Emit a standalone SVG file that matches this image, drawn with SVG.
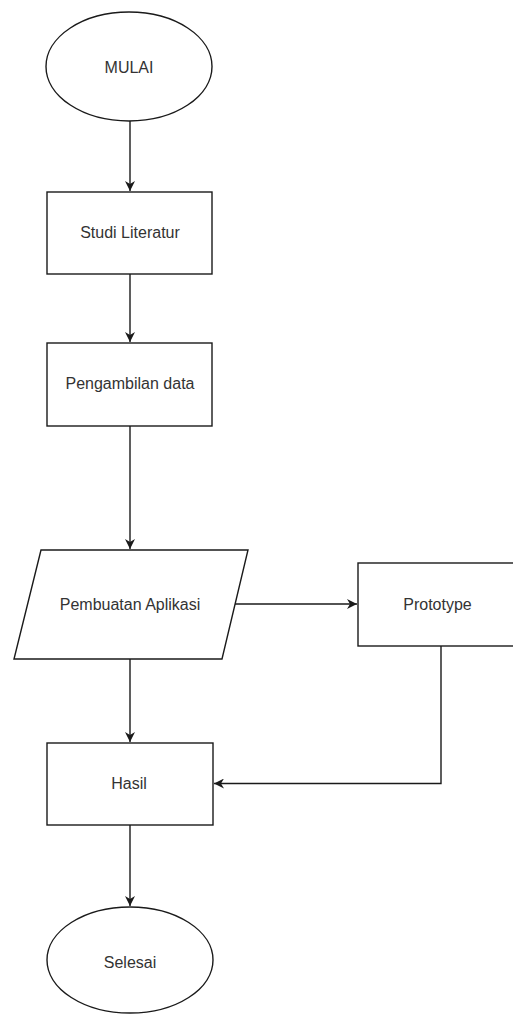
<svg xmlns="http://www.w3.org/2000/svg" width="513" height="1014" viewBox="0 0 513 1014">
<style>
.shape{fill:#ffffff;stroke:#1a1a1a;stroke-width:1.4}
.lbl{font-family:"Liberation Sans",Arial,sans-serif;font-size:16px;fill:#333333;text-anchor:middle}
.edge{fill:none;stroke:#1a1a1a;stroke-width:1.4}
</style>
<defs>
<marker id="arr" viewBox="0 0 10 10" refX="10" refY="5" markerWidth="10" markerHeight="10" markerUnits="userSpaceOnUse" orient="auto">
<path d="M0,0 L10,5 L0,10 L3,5 z" fill="#1a1a1a"/>
</marker>
</defs>
<rect width="513" height="1014" fill="#ffffff"/>
<g id="connectors">
<path class="edge" d="M130,121 L130,191" marker-end="url(#arr)"/>
<path class="edge" d="M130,274 L130,342" marker-end="url(#arr)"/>
<path class="edge" d="M130,426 L130,549" marker-end="url(#arr)"/>
<path class="edge" d="M233,604 L357,604" marker-end="url(#arr)"/>
<path class="edge" d="M130,659 L130,742" marker-end="url(#arr)"/>
<path class="edge" d="M441,646 L441,783.5 L214,783.5" marker-end="url(#arr)"/>
<path class="edge" d="M130,825 L130,906" marker-end="url(#arr)"/>
</g>
<g id="mulai">
<ellipse class="shape" cx="129" cy="66.5" rx="83" ry="54.5"/>
<text class="lbl" x="129" y="73">MULAI</text>
</g>
<g id="studi-literatur">
<rect class="shape" x="47" y="192" width="165" height="82"/>
<text class="lbl" x="130" y="238">Studi Literatur</text>
</g>
<g id="pengambilan-data">
<rect class="shape" x="47" y="343" width="165" height="83"/>
<text class="lbl" x="130" y="389">Pengambilan data</text>
</g>
<g id="pembuatan-aplikasi">
<polygon class="shape" points="41,550 248,550 222,659 14,659"/>
<text class="lbl" x="130" y="610">Pembuatan Aplikasi</text>
</g>
<g id="prototype">
<rect class="shape" x="358" y="563" width="160" height="83"/>
<text class="lbl" x="437.5" y="610">Prototype</text>
</g>
<g id="hasil">
<rect class="shape" x="47" y="743" width="166" height="82"/>
<text class="lbl" x="129" y="789">Hasil</text>
</g>
<g id="selesai">
<ellipse class="shape" cx="130" cy="960" rx="83" ry="53"/>
<text class="lbl" x="130" y="968">Selesai</text>
</g>
</svg>
